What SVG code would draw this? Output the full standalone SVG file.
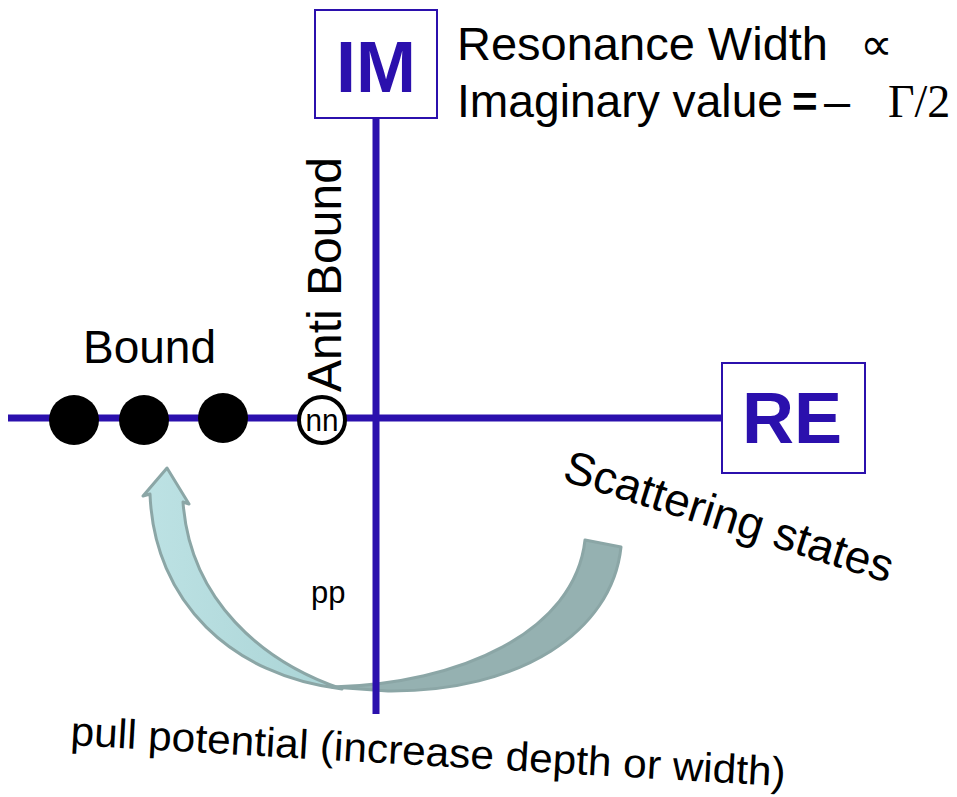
<svg xmlns="http://www.w3.org/2000/svg" width="957" height="797" viewBox="0 0 957 797">
<defs>
<style>
.t{font-family:"Liberation Sans",Arial,sans-serif;fill:#000}
.ax{stroke:#2b10ad;stroke-width:7;fill:none}
.box{fill:#fff;stroke:#2b10ad;stroke-width:2}
.bl{font-family:"Liberation Sans",Arial,sans-serif;font-weight:bold;fill:#2b10ad;text-anchor:middle}
.dot{fill:#000}
</style>
<linearGradient id="g1" x1="0" y1="0" x2="1" y2="0">
<stop offset="0" stop-color="#bde2e4"/>
<stop offset="1" stop-color="#a9d3d5"/>
</linearGradient>
</defs>
<rect width="957" height="797" fill="#fff"/>

<g id="arrow">
<path d="M585,540 L621,547 C612,632 520,692 388,691 L332,687 C460,684 575,632 585,540 Z" fill="#95b1b1" stroke="#8ba6a6" stroke-width="3" stroke-linejoin="round"/>
<path d="M167,468 L189,504 L183,502 C190,600 262,662 342,689 C232,676 154,602 150,494 L143,496 Z" fill="url(#g1)" stroke="#8ba6a6" stroke-width="3" stroke-linejoin="round"/>
</g>

<g id="connectors">
<line class="ax" x1="8" y1="418" x2="722" y2="418"/>
<line class="ax" x1="376" y1="118" x2="376" y2="714"/>
</g>

<g id="im-box">
<rect class="box" x="315" y="10" width="122" height="108"/>
<text class="bl" x="376" y="92" font-size="72">IM</text>
</g>

<g id="re-box">
<rect class="box" x="722" y="363" width="143" height="110"/>
<text class="bl" x="792" y="443" font-size="72">RE</text>
</g>

<g id="resonance-label">
<text class="t" font-size="47"><tspan x="457" y="60">Resonance Width</tspan><tspan x="860" y="60" font-family="DejaVu Sans,sans-serif" font-size="46">∝</tspan></text>
<text class="t" font-size="47"><tspan x="457" y="117" textLength="326" lengthAdjust="spacingAndGlyphs">Imaginary value</tspan><tspan x="792" y="117" font-size="44" font-weight="bold">=</tspan><tspan x="824" y="117">–</tspan><tspan x="888" y="117" font-family="Liberation Serif,Times New Roman,serif" font-size="46">Γ/2</tspan></text>
</g>

<g id="bound">
<text class="t" x="83" y="363" font-size="46">Bound</text>
<circle class="dot" cx="74" cy="420" r="25"/>
<circle class="dot" cx="144" cy="420" r="25"/>
<circle class="dot" cx="223" cy="418" r="25"/>
</g>

<g id="anti-bound">
<circle cx="322" cy="420" r="23" fill="#fff" stroke="#000" stroke-width="4"/>
<text class="t" x="322" y="431" font-size="32" text-anchor="middle" textLength="33" lengthAdjust="spacingAndGlyphs">nn</text>
<text class="t" font-size="48" transform="translate(341,392) rotate(-90)">Anti Bound</text>
</g>

<g id="pp">
<text class="t" x="311" y="603" font-size="31">pp</text>
</g>

<g id="scattering">
<text class="t" font-size="46" transform="translate(561,480) rotate(17.5)">Scattering states</text>
</g>

<g id="pull">
<text class="t" font-size="41" transform="translate(70,745) rotate(3.3)" textLength="716" lengthAdjust="spacingAndGlyphs">pull potential (increase depth or width)</text>
</g>
</svg>
